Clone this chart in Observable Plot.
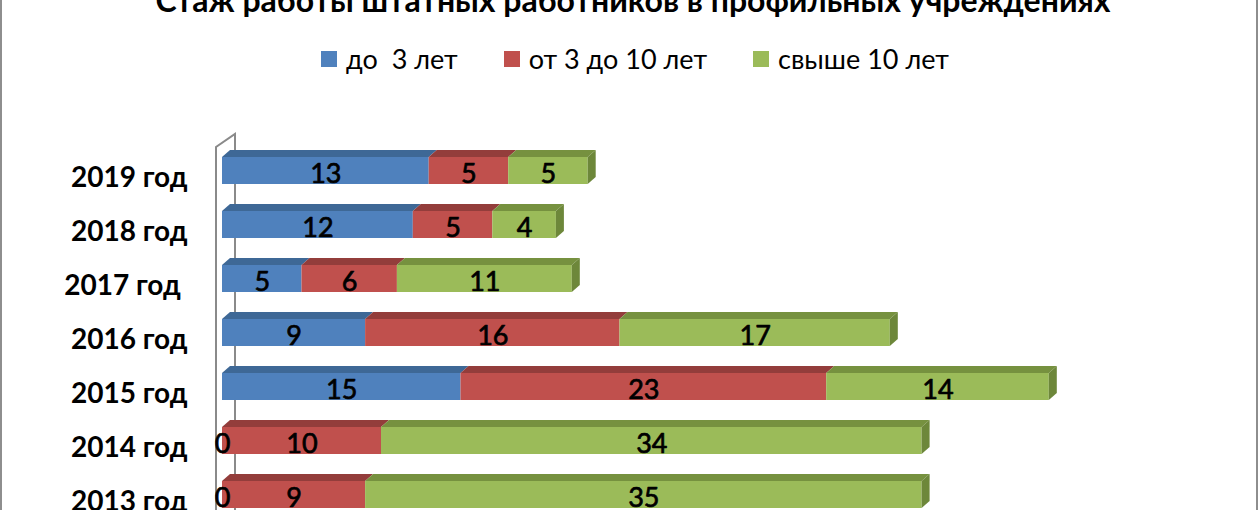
<!DOCTYPE html>
<html><head><meta charset="utf-8">
<script src="https://cdn.jsdelivr.net/npm/d3@7"></script>
<script src="https://cdn.jsdelivr.net/npm/@observablehq/plot@0.6"></script>
<style>
html,body{margin:0;padding:0;background:#fff;}
#wrap{position:relative;width:1260px;height:510px;overflow:hidden;font-family:Lato,"Liberation Sans",sans-serif;color:#000;}
#frame{position:absolute;left:0;top:-40px;width:1254px;height:700px;border:2px solid #8e8e8e;}
#title{position:absolute;left:0;width:1266px;top:-16px;text-align:center;font-weight:bold;font-size:32px;line-height:32px;white-space:nowrap;}
#legend{position:absolute;left:0;width:1270px;top:45px;display:flex;justify-content:center;gap:46px;font-size:27px;line-height:27px;white-space:pre;}
#legend .it{display:flex;align-items:center;gap:9px;}
#legend .sw{width:16px;height:16px;display:inline-block;}
#chart{position:absolute;left:0;top:90px;}
</style></head>
<body>
<div id="wrap">
  <div id="frame"></div>
  <div id="title">Стаж работы штатных работников в профильных учреждениях</div>
  <div id="legend"></div>
  <div id="chart"></div>
</div>
<script>
const years = ["2019 год", "2018 год", "2017 год\u00a0", "2016 год", "2015 год", "2014 год", "2013 год"];
const series = ["до  3 лет", "от 3 до 10 лет", "свыше 10 лет"];
const under3 = [13, 12, 5, 9, 15, 0, 0];
const from3to10 = [5, 5, 6, 16, 23, 10, 9];
const over10 = [5, 4, 11, 17, 14, 34, 35];
const colors = ["#4F81BD", "#C0504D", "#9BBB59"];
const topColors = ["#3E6896", "#933D3B", "#76913F"];
const sideColors = ["#395F8B", "#8A3836", "#6D873A"];

const seriesValues = [under3, from3to10, over10];
const rows = [];
years.forEach((yr, i) => seriesValues.forEach((arr, k) => rows.push({year: yr, series: series[k], value: arr[i]})));

// legend
const leg = document.getElementById("legend");
series.forEach((s, k) => {
  const it = document.createElement("div"); it.className = "it";
  const sw = document.createElement("span"); sw.className = "sw"; sw.style.background = colors[k];
  const tx = document.createElement("span"); tx.textContent = s;
  it.appendChild(sw); it.appendChild(tx); leg.appendChild(it);
});

const depthX = 8, depthY = 7;

function wall(index, scales) {
  const X = scales.x, Y = scales.y;
  const x0 = X(0);
  const yTop = Y(years[0]);
  const g = d3.create("svg:g").attr("fill", "none").attr("stroke", "#8a8a8a").attr("stroke-width", 2);
  g.append("path").attr("d", `M${x0 - 6},1000V${yTop - 10}L${x0 + 13},${yTop - 23}V1000`);
  return g.node();
}

function faces(index, scales) {
  const X = scales.x, Y = scales.y;
  const bw = typeof Y.bandwidth === "function" ? Y.bandwidth() : 27;
  const g = d3.create("svg:g");
  years.forEach((yr, i) => {
    const yt = Y(yr);
    const vals = seriesValues.map(a => a[i]);
    let lastK = -1;
    vals.forEach((v, k) => { if (v > 0) lastK = k; });
    let acc = 0;
    vals.forEach((v, k) => {
      const x1 = X(acc), x2 = X(acc + v);
      acc += v;
      if (v <= 0) return;
      g.append("path")
        .attr("d", `M${x1},${yt}L${x2},${yt}L${x2 + depthX},${yt - depthY}L${x1 + depthX},${yt - depthY}Z`)
        .attr("fill", topColors[k]);
      if (k === lastK) {
        g.append("path")
          .attr("d", `M${x2},${yt}L${x2 + depthX},${yt - depthY}L${x2 + depthX},${yt + bw - depthY}L${x2},${yt + bw}Z`)
          .attr("fill", sideColors[k]);
      }
    });
  });
  return g.node();
}

const plot = Plot.plot({
  width: 1260,
  height: 470,
  marginLeft: 222,
  marginRight: 84,
  marginTop: 52.1,
  marginBottom: 37.8,
  style: {fontFamily: "Lato, 'Liberation Sans', sans-serif", background: "transparent", overflow: "visible"},
  x: {domain: [0, 60], axis: null},
  y: {domain: years, paddingInner: 0.5, paddingOuter: 0.25, label: null},
  color: {domain: series, range: colors},
  marks: [
    wall,
    Plot.barX(rows, Plot.stackX({x: "value", y: "year", fill: "series", z: "series", order: series})),
    faces,
    Plot.text(rows, Plot.stackX({x: "value", y: "year", z: "series", order: series, text: d => String(d.value), fontSize: 27, dy: 3.5, fill: "#000", stroke: "#000", strokeWidth: 0.7})),
    Plot.axisY({tickSize: 0, tickPadding: 35, fontSize: 28, fontWeight: "bold", dy: 7, label: null, fill: "#000"})
  ]
});
document.getElementById("chart").appendChild(plot);
</script>
</body></html>
